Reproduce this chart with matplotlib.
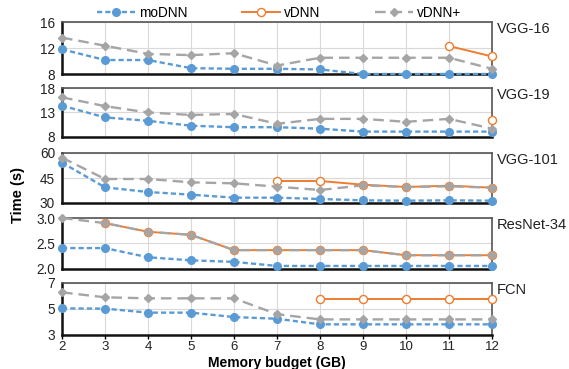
import numpy as np
import matplotlib
matplotlib.use("Agg")
import matplotlib.pyplot as plt

plt.rcParams['font.family'] = ['Liberation Sans', 'DejaVu Sans']

budgets = [2, 3, 4, 5, 6, 7, 8, 9, 10, 11, 12]
nan = np.nan

models = ["VGG-16", "VGG-19", "VGG-101", "ResNet-34", "FCN"]

modnn_vgg16 = [11.8, 10.15, 10.15, 8.9, 8.8, 8.8, 8.7, 8.0, 8.0, 8.0, 8.0]
vdnn_vgg16 = [nan, nan, nan, nan, nan, nan, nan, nan, nan, 12.3, 10.7]
vdnnp_vgg16 = [13.6, 12.35, 11.1, 10.9, 11.2, 9.3, 10.5, 10.5, 10.5, 10.5, 8.8]

modnn_vgg19 = [14.4, 12.0, 11.3, 10.3, 10.0, 10.0, 9.7, 9.1, 9.1, 9.1, 9.1]
vdnn_vgg19 = [nan, nan, nan, nan, nan, nan, nan, nan, nan, nan, 11.5]
vdnnp_vgg19 = [16.1, 14.3, 13.0, 12.5, 12.7, 10.7, 11.7, 11.7, 11.1, 11.7, 9.7]

modnn_vgg101 = [54.2, 39.4, 36.6, 35.0, 33.2, 33.2, 32.4, 31.6, 31.4, 31.6, 31.4]
vdnn_vgg101 = [nan, nan, nan, nan, nan, 43.2, 43.2, 41.0, 39.6, 40.4, 39.2]
vdnnp_vgg101 = [57.2, 44.4, 44.4, 42.4, 41.8, 39.8, 37.8, 40.6, 39.6, 40.0, 39.2]

modnn_resnet = [2.41, 2.41, 2.23, 2.17, 2.14, 2.06, 2.06, 2.06, 2.06, 2.06, 2.06]
vdnn_resnet = [nan, 2.9, 2.73, 2.67, 2.37, 2.37, 2.37, 2.37, 2.27, 2.27, 2.27]
vdnnp_resnet = [3.0, 2.9, 2.73, 2.67, 2.37, 2.37, 2.37, 2.37, 2.27, 2.27, 2.27]

modnn_fcn = [5.05, 5.03, 4.72, 4.72, 4.38, 4.25, 3.82, 3.82, 3.82, 3.82, 3.82]
vdnn_fcn = [nan, nan, nan, nan, nan, nan, 5.8, 5.8, 5.8, 5.8, 5.8]
vdnnp_fcn = [6.28, 5.9, 5.82, 5.82, 5.82, 4.6, 4.2, 4.2, 4.2, 4.2, 4.2]

yticks = [[8, 12, 16], [8, 13, 18], [30, 45, 60], [2.0, 2.5, 3.0], [3, 5, 7]]
ytick_labels = [["8", "12", "16"], ["8", "13", "18"], ["30", "45", "60"],
                ["2.0", "2.5", "3.0"], ["3", "5", "7"]]

series = [
    (modnn_vgg16, vdnn_vgg16, vdnnp_vgg16),
    (modnn_vgg19, vdnn_vgg19, vdnnp_vgg19),
    (modnn_vgg101, vdnn_vgg101, vdnnp_vgg101),
    (modnn_resnet, vdnn_resnet, vdnnp_resnet),
    (modnn_fcn, vdnn_fcn, vdnnp_fcn),
]

BLUE = "#5B9BD5"
ORANGE = "#ED7D31"
GRAY = "#A5A5A5"

fig = plt.figure(figsize=(5.69, 3.69), dpi=100)
W, H = 569, 369
left_px, right_px = 62, 492
panels_px = [(22, 74), (88, 137), (153, 203), (218, 269), (283, 335)]

handles = None
for i, (top, bot) in enumerate(panels_px):
    ax = fig.add_axes([left_px / W, 1 - bot / H, (right_px - left_px) / W, (bot - top) / H])
    m, v, p = series[i]
    h1, = ax.plot(budgets, m, color=BLUE, lw=1.7, ls=(0, (2.2, 1.3)), marker='o', ms=5.5,
                  mfc=BLUE, mec=BLUE, zorder=3, clip_on=False)
    h2, = ax.plot(budgets, v, color=ORANGE, lw=1.4, ls='-', marker='o', ms=5.8,
                  mfc='white', mec=ORANGE, mew=1.0, zorder=4, clip_on=False)
    h3, = ax.plot(budgets, p, color=GRAY, lw=1.7, ls=(0, (4.5, 2.5)), marker='D', ms=4,
                  mfc=GRAY, mec=GRAY, zorder=5, clip_on=False)
    if handles is None:
        handles = [h1, h2, h3]
    ax.set_xlim(2, 12)
    ax.set_ylim(yticks[i][0], yticks[i][-1])
    ax.set_yticks(yticks[i])
    ax.set_yticklabels(ytick_labels[i], fontsize=9.8, color='#222222')
    ax.set_xticks(budgets)
    ax.grid(True, color='#D9D9D9', lw=0.8, zorder=0)
    ax.set_axisbelow(True)
    ax.tick_params(axis='y', length=0, pad=5)
    for s in ['left', 'bottom']:
        ax.spines[s].set_color('#111111')
        ax.spines[s].set_linewidth(1.8)
    for s in ['top', 'right']:
        ax.spines[s].set_color('#555555')
        ax.spines[s].set_linewidth(1.2)
    if i < 4:
        ax.tick_params(axis='x', length=0, labelbottom=False)
    else:
        ax.tick_params(axis='x', length=3, width=1, labelsize=9.5, labelcolor='#222222', pad=1.5)
    ax.text(1.012, 1.0, models[i], transform=ax.transAxes, ha='left', va='top',
            fontsize=10.5, color='#222222')

fig.text(277 / W, 1 - 362.5 / H, "Memory budget (GB)", ha='center', va='center',
         fontsize=10, fontweight='bold')
fig.text(18 / W, 1 - 195 / H, "Time (s)", rotation=90, ha='center', va='center',
         fontsize=10.5, fontweight='bold')

fig.legend(handles, ["moDNN", "vDNN", "vDNN+"], loc='center', ncol=3,
           bbox_to_anchor=(279 / W, 1 - 13 / H), frameon=False, fontsize=9.8,
           handlelength=2.8, columnspacing=4.0, handletextpad=0.3)

fig.savefig("out.png", dpi=100)
